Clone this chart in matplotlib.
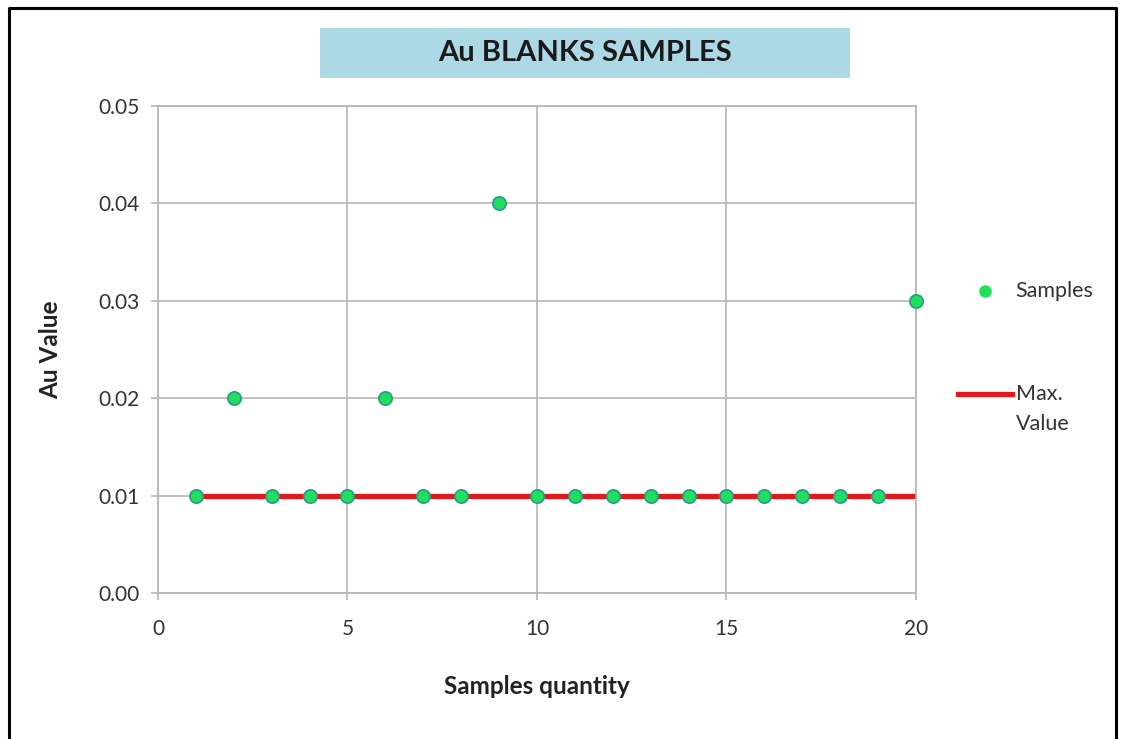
import matplotlib
matplotlib.use("Agg")
import matplotlib.pyplot as plt
from matplotlib.lines import Line2D
from matplotlib.patches import Rectangle

# Data
sample_no = list(range(1, 21))
au_values = [0.01, 0.02, 0.01, 0.01, 0.01, 0.02, 0.01, 0.01, 0.04, 0.01,
             0.01, 0.01, 0.01, 0.01, 0.01, 0.01, 0.01, 0.01, 0.01, 0.03]
max_value = 0.01
x_ticks = [0, 5, 10, 15, 20]
y_ticks = [0.00, 0.01, 0.02, 0.03, 0.04, 0.05]

plt.rcParams["font.family"] = ["Lato", "DejaVu Sans"]

fig = plt.figure(figsize=(11.22, 7.39), dpi=100)
ax = fig.add_axes([0.1408, 0.1976, 0.6756, 0.659])

# Max value line, then sample points on top
ax.plot([sample_no[0], sample_no[-1]], [max_value, max_value],
        color="#e0191e", linewidth=3.8, zorder=2)
ax.plot(sample_no, au_values, linestyle="none", marker="o",
        markersize=9.5, markerfacecolor="#1fe05a", markeredgecolor="#2a9d8f",
        markeredgewidth=1.3, zorder=3, clip_on=False)

ax.set_xlim(0, 20)
ax.set_ylim(0, 0.05)
ax.set_xticks(x_ticks)
ax.set_yticks(y_ticks)
ax.set_yticklabels([f"{v:.2f}" for v in y_ticks])
ax.grid(True, color="#b5b5b5", linewidth=1.2)
ax.set_axisbelow(True)
for s in ax.spines.values():
    s.set_color("#b5b5b5")
    s.set_linewidth(1.2)
ax.tick_params(axis="both", colors="#b5b5b5", labelcolor="#333333",
               labelsize=15, length=5, width=1.2)
ax.tick_params(axis="x", pad=14)
ax.tick_params(axis="y", pad=8)

ax.set_xlabel("Samples quantity", fontsize=17.5, fontweight="bold",
              color="#222222", labelpad=26)
ax.set_ylabel("Au Value", fontsize=17.5, fontweight="bold",
              color="#222222", labelpad=26)

# Title box
fig.patches.append(Rectangle((320 / 1122, 1 - 78 / 739), 530 / 1122, 50 / 739,
                             transform=fig.transFigure, facecolor="#add8e6",
                             edgecolor="none"))
fig.text(585 / 1122, 1 - 53 / 739, "Au BLANKS SAMPLES", ha="center",
         va="center", fontsize=21, fontweight="bold", color="#1a1a1a")

# Legend drawn beside the plot
fig.add_artist(Line2D([985 / 1122], [1 - 291 / 739], marker="o",
                      markersize=8, markerfacecolor="#1fe05a",
                      markeredgecolor="#1fe05a", transform=fig.transFigure))
fig.text(1015 / 1122, 1 - 291 / 739, "Samples", fontsize=15.5,
         color="#333333", va="center")
fig.add_artist(Line2D([958 / 1122, 1012 / 1122], [1 - 394 / 739, 1 - 394 / 739],
                      color="#e0191e", linewidth=3.8, transform=fig.transFigure))
fig.text(1016 / 1122, 1 - 394 / 739, "Max.", fontsize=15.5,
         color="#333333", va="center")
fig.text(1016 / 1122, 1 - 424 / 739, "Value", fontsize=15.5,
         color="#333333", va="center")

# Outer border (left, top, right)
fig.add_artist(Line2D([9 / 1122, 9 / 1122, 1116 / 1122, 1116 / 1122],
                      [0, 1 - 8 / 739, 1 - 8 / 739, 0],
                      color="black", linewidth=2.2, transform=fig.transFigure))

fig.savefig("out.png", dpi=100)
